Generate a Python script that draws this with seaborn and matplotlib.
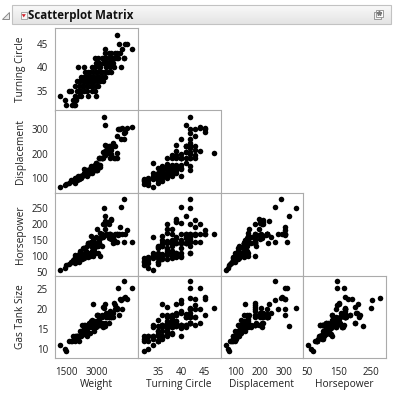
import numpy as np
import pandas as pd
import matplotlib
matplotlib.use('Agg')
import matplotlib.pyplot as plt
import seaborn as sns
from matplotlib.patches import Rectangle, Polygon
from matplotlib.colors import LinearSegmentedColormap

## car physical data
weight = [1680, 1830, 1890, 2170, 2230, 2100, 2200, 2250, 2150, 2200,
          2070, 2690, 3000, 2350, 2450, 2000, 2300, 2450, 2550, 2650,
          2850, 2950, 2380, 2200, 2350, 2480, 2560, 2640, 2710, 2800,
          2875, 2980, 3050, 2280, 2400, 2500, 2590, 2660, 2720, 2790,
          2860, 2920, 3010, 3150, 3250, 2450, 2540, 2610, 2700, 2760,
          2830, 2900, 3030, 3100, 3200, 3300, 2600, 2700, 2780, 2880,
          2970, 3040, 3120, 3200, 3300, 3420, 3530, 2320, 2560, 2850,
          2950, 3080, 3150, 3900, 3350, 3500, 3650, 3000, 3100, 3250,
          3307, 3380, 3450, 3500, 3600, 2950, 3050, 3200, 3270, 3350,
          3450, 3520, 3550, 3620, 3700, 3750, 4011, 4020, 3800, 3300,
          3450, 3520, 3700, 3860, 3750, 3310, 4296, 3950, 3840, 4050,
          4120, 3740]
turning = [34, 33, 32, 32, 32, 32, 33, 33, 33, 34,
           35, 34, 34, 34, 34, 35, 35, 35, 35, 35,
           35, 35, 35, 36, 36, 36, 36, 36, 36, 36,
           36, 36, 36, 37, 37, 37, 37, 37, 37, 37,
           37, 37, 37, 37, 37, 38, 38, 38, 38, 38,
           38, 38, 38, 38, 38, 38, 39, 39, 39, 39,
           39, 39, 39, 39, 39, 39, 39, 40, 40, 40,
           40, 40, 40, 40, 40, 40, 40, 41, 41, 41,
           41, 41, 41, 41, 41, 42, 42, 42, 42, 42,
           42, 42, 42, 42, 42, 42, 42, 42, 42, 43,
           43, 43, 43, 43, 43, 44, 44, 44, 45, 45,
           45, 47]
displacement = [61, 70, 75, 90, 97, 86, 81, 98, 90, 100,
                90, 122, 163, 97, 109, 79, 91, 98, 116, 110,
                122, 140, 97, 89, 100, 109, 122, 113, 133, 151,
                140, 134, 146, 98, 109, 112, 122, 120, 134, 138,
                141, 140, 156, 152, 181, 107, 113, 133, 134, 122,
                146, 138, 134, 152, 181, 195, 122, 133, 135, 150,
                153, 134, 146, 181, 236, 213, 196, 110, 138, 141,
                153, 182, 181, 262, 200, 181, 181, 163, 181, 207,
                320, 231, 207, 231, 232, 133, 148, 183, 351, 231,
                207, 225, 200, 245, 231, 181, 286, 262, 302, 196,
                231, 214, 182, 302, 273, 213, 311, 305, 302, 290,
                305, 204]
horsepower = [55, 62, 70, 85, 92, 82, 78, 95, 88, 102,
              82, 110, 160, 92, 100, 75, 92, 110, 124, 100,
              128, 130, 81, 96, 105, 90, 103, 130, 140, 164,
              150, 135, 130, 90, 116, 125, 102, 110, 140, 142,
              146, 120, 185, 172, 200, 110, 92, 115, 140, 100,
              115, 140, 130, 150, 168, 185, 110, 96, 110, 100,
              140, 140, 155, 160, 210, 208, 217, 95, 125, 140,
              110, 141, 100, 253, 205, 170, 150, 140, 141, 160,
              226, 170, 155, 170, 140, 110, 110, 130, 252, 170,
              200, 165, 153, 158, 170, 142, 279, 145, 165, 165,
              170, 214, 145, 190, 170, 200, 143, 170, 170, 170,
              180, 170]
gas_tank = [10.8, 10.0, 9.4, 12.4, 13.2, 11.9, 11.9, 13.2, 13.2, 12.4,
            11.9, 15.9, 15.5, 13.2, 13.2, 11.9, 13.2, 14.5, 13.7, 14.5,
            17.2, 15.8, 11.9, 12.4, 13.2, 15.9, 14.5, 13.2, 15.9, 15.5,
            21.3, 15.9, 18.5, 13.2, 14.5, 13.7, 15.9, 15.2, 16.4, 16.9,
            16.0, 14.5, 18.5, 18.0, 20.6, 13.7, 15.9, 15.5, 15.5, 14.0,
            16.4, 16.9, 18.5, 17.5, 18.0, 18.5, 15.6, 16.0, 15.6, 16.0,
            17.0, 17.0, 16.4, 18.5, 21.3, 19.0, 18.5, 13.2, 15.2, 15.4,
            16.0, 16.0, 16.0, 22.2, 19.0, 19.6, 21.5, 16.0, 16.0, 15.5,
            15.7, 18.0, 18.0, 18.8, 18.0, 16.5, 16.4, 16.5, 20.3, 18.0,
            16.5, 18.2, 18.0, 19.0, 20.0, 20.0, 22.7, 27.2, 25.3, 16.0,
            18.0, 18.0, 21.0, 22.5, 20.0, 16.5, 25.3, 20.0, 18.5, 23.0,
            22.5, 20.3]

cols = ['Weight', 'Turning Circle', 'Displacement', 'Horsepower', 'Gas Tank Size']
df = pd.DataFrame(dict(zip(cols, [weight, turning, displacement, horsepower, gas_tank])))

sns.set_style('white')
plt.rcParams['font.family'] = ['Open Sans', 'DejaVu Sans']

# axis setup per variable: limits, ticks, labels, minor ticks
lims = {'Weight': (1480, 4530), 'Turning Circle': (30.8, 48.4),
        'Displacement': (38, 378), 'Horsepower': (38, 298), 'Gas Tank Size': (7.6, 28.5)}
x_ticks = {'Weight': ([1500, 2000, 2500, 3000, 3500, 4000, 4500], ['1500', '', '', '3000', '', '', '']),
           'Turning Circle': ([35, 40, 45], ['35', '40', '45']),
           'Displacement': ([100, 200, 300], ['100', '200', '300']),
           'Horsepower': ([50, 100, 150, 200, 250], ['50', '', '150', '', '250'])}
x_minor = {'Weight': [], 'Turning Circle': [32.5, 37.5, 42.5, 47.5],
           'Displacement': [50, 150, 250, 350], 'Horsepower': []}
y_ticks = {'Turning Circle': [35, 40, 45], 'Displacement': [100, 200, 300],
           'Horsepower': [50, 100, 150, 200, 250], 'Gas Tank Size': [10, 15, 20, 25]}
y_minor = {'Turning Circle': [32.5, 37.5, 42.5, 47.5], 'Displacement': [50, 150, 250, 350],
           'Horsepower': [75, 125, 175, 225, 275], 'Gas Tank Size': [12.5, 17.5, 22.5, 27.5]}

W, H = 395, 400
fig = plt.figure(figsize=(W / 100, H / 100), dpi=100)

def frac(x0, y0, x1, y1):
    return [x0 / W, 1 - y1 / H, (x1 - x0) / W, (y1 - y0) / H]

## header bar
ax0 = fig.add_axes([0, 0, 1, 1])
ax0.set_xlim(0, W)
ax0.set_ylim(H, 0)
ax0.axis('off')
grad = np.linspace(0, 1, 30).reshape(-1, 1)
ax0.imshow(grad, cmap=LinearSegmentedColormap.from_list('hdr', ['#f9f9f9', '#e4e4e4']),
           extent=[12, 391, 24, 5], aspect='auto')
ax0.add_patch(Rectangle((12, 5), 379, 19, fill=False, ec='#c2c2c2', lw=0.8))
ax0.add_patch(Polygon([(2, 18.5), (8.5, 18.5), (8.5, 11.5)], fc='#e8e8e8', ec='#8a8a8a', lw=0.7))
ax0.add_patch(Rectangle((20.5, 12.3), 6.5, 6.5, fc='#f6f6f6', ec='#9a9a9a', lw=0.6))
ax0.add_patch(Polygon([(21.7, 14.2), (25.8, 14.2), (23.75, 17.4)], fc='#d11f2a', ec='none'))
ax0.text(28, 15, 'Scatterplot Matrix', fontsize=8.3, fontweight='bold', va='center', ha='left', color='#111111')
ax0.add_patch(Rectangle((373.5, 11.5), 7.5, 7.5, fc='#f2f2f2', ec='#8c8c8c', lw=0.6))
ax0.add_patch(Rectangle((375.5, 9.5), 7.5, 7.5, fc='#ffffff', ec='#8c8c8c', lw=0.6))
ax0.plot([379.25], [13.25], marker='*', ms=3.5, color='#7a7a7a')

col_edges = [55, 138, 220.5, 303, 386]
row_edges = [28, 110.5, 193, 275.5, 358]

for i in range(4):
    yv = cols[i + 1]
    for j in range(i + 1):
        xv = cols[j]
        ax = fig.add_axes(frac(col_edges[j], row_edges[i], col_edges[j + 1], row_edges[i + 1]))
        sns.scatterplot(data=df, x=xv, y=yv, ax=ax, color='black', s=16, linewidth=0, legend=False)
        ax.set_xlim(*lims[xv])
        ax.set_ylim(*lims[yv])
        for sp in ax.spines.values():
            sp.set_color('#ababab')
            sp.set_linewidth(0.8)
        ax.tick_params(which='both', direction='out', color='#9a9a9a', width=0.7,
                       labelsize=7, labelcolor='#202020')
        ax.tick_params(which='major', length=3.2)
        ax.tick_params(which='minor', length=2)
        ax.tick_params(axis='x', pad=3.2)
        ax.tick_params(axis='y', pad=1.8)
        if j == 0:
            ax.set_yticks(y_ticks[yv])
            ax.set_yticks(y_minor[yv], minor=True)
            ax.set_ylabel(yv, fontsize=7.3, color='#202020')
            ax.yaxis.set_label_coords(-0.42, 0.5)
            ax.yaxis.label.set_va('center')
        else:
            ax.set_yticks([])
            ax.set_ylabel('')
        if i == 3:
            ticks, labels = x_ticks[xv]
            ax.set_xticks(ticks)
            ax.set_xticklabels(labels)
            ax.set_xticks(x_minor[xv], minor=True)
            if xv == 'Weight':
                ax.get_xticklabels()[0].set_ha('left')
            ax.set_xlabel(xv, fontsize=7.3, color='#202020')
            ax.xaxis.set_label_coords(0.5, -0.327)
            ax.xaxis.label.set_va('center')
        else:
            ax.set_xticks([])
            ax.set_xlabel('')

fig.savefig('out.png', dpi=100)
